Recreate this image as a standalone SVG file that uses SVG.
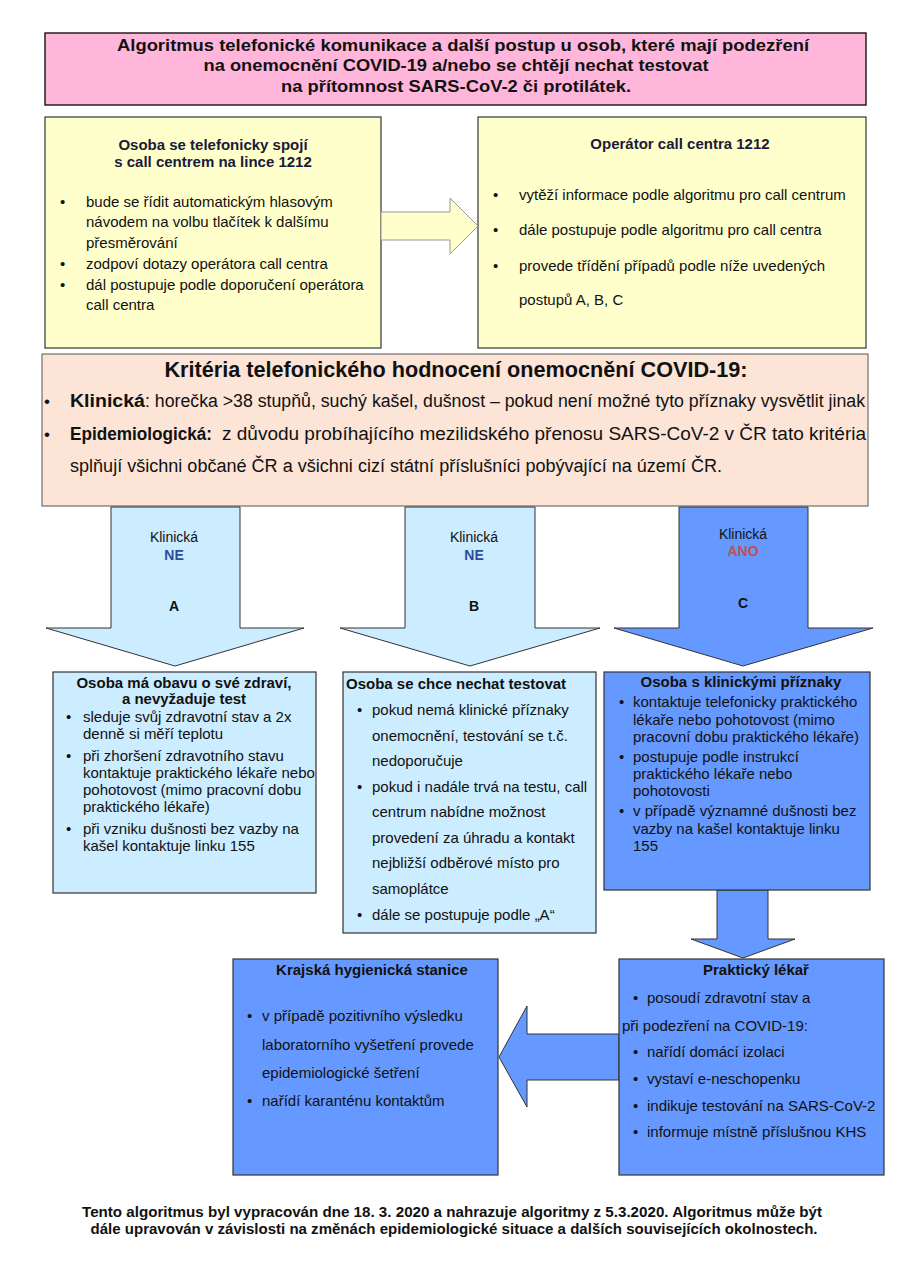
<svg xmlns="http://www.w3.org/2000/svg" width="900" height="1274" viewBox="0 0 900 1274">
<style>
text{font-family:"Liberation Sans",Arial,sans-serif;fill:#111;}
.n{font-family:"Liberation Sans Narrow","Liberation Sans",Arial,sans-serif;}
.b{font-weight:bold;}
.t15{font-size:15px;}
.c{text-anchor:middle;}
.nv{fill:#1a1a3a;}
.box{stroke:#333;stroke-width:1.2;}
.arr{stroke:#333;stroke-width:1;}
.lbl{font-size:14px;}
</style>
<rect width="900" height="1274" fill="#fff"/>

<g id="title">
<rect x="45" y="33" width="821" height="72" fill="#ffb6da" stroke="#222" stroke-width="1.5"/>
<text class="n b c" font-size="17" x="463" y="51" textLength="692" lengthAdjust="spacingAndGlyphs">Algoritmus telefonické komunikace a další postup u osob, které mají podezření</text>
<text class="n b c" font-size="17" x="456" y="71" textLength="505" lengthAdjust="spacingAndGlyphs">na onemocnění COVID-19 a/nebo se chtějí nechat testovat</text>
<text class="n b c" font-size="17" x="456" y="92" textLength="350" lengthAdjust="spacingAndGlyphs">na přítomnost SARS-CoV-2 či protilátek.</text>
</g>

<g id="osoba-1212">
<rect x="45" y="117" width="336" height="231" fill="#ffffcc" class="box"/>
<text class="b t15 c nv" x="213" y="150">Osoba se telefonicky spojí</text>
<text class="b t15 c nv" x="213" y="167">s call centrem na lince 1212</text>
<g class="t15">
<text x="60" y="207">•</text><text x="86" y="207">bude se řídit automatickým hlasovým</text>
<text x="86" y="227">návodem na volbu tlačítek k dalšímu</text>
<text x="86" y="248">přesměrování</text>
<text x="60" y="269">•</text><text x="86" y="269">zodpoví dotazy operátora call centra</text>
<text x="60" y="290">•</text><text x="86" y="290">dál postupuje podle doporučení operátora</text>
<text x="86" y="310">call centra</text>
</g>
</g>

<g id="operator">
<rect x="478" y="117" width="388" height="231" fill="#ffffcc" class="box"/>
<text class="b t15 c nv" x="680" y="149">Operátor call centra 1212</text>
<g class="t15">
<text x="493" y="200">•</text><text x="519" y="200">vytěží informace podle algoritmu pro call centrum</text>
<text x="493" y="235">•</text><text x="519" y="235">dále postupuje podle algoritmu pro call centra</text>
<text x="493" y="271">•</text><text x="519" y="271">provede třídění případů podle níže uvedených</text>
<text x="519" y="305">postupů A, B, C</text>
</g>
</g>

<g id="kriteria">
<rect x="42" y="354" width="826" height="152" fill="#fce4d6" stroke="#555" stroke-width="1"/>
<text class="n b c" font-size="22" x="456" y="377" textLength="583" lengthAdjust="spacingAndGlyphs">Kritéria telefonického hodnocení onemocnění COVID-19:</text>
<text x="44" y="407" font-size="17">•</text>
<text class="n b" font-size="18" x="70" y="407" textLength="75" lengthAdjust="spacingAndGlyphs">Klinická</text>
<text class="n" font-size="18" x="145" y="407" textLength="720" lengthAdjust="spacingAndGlyphs">: horečka &gt;38 stupňů, suchý kašel, dušnost – pokud není možné tyto příznaky vysvětlit jinak</text>
<text x="44" y="440" font-size="17">•</text>
<text class="n b" font-size="18" x="70" y="440" textLength="142" lengthAdjust="spacingAndGlyphs">Epidemiologická:</text>
<text class="n" font-size="18" x="222" y="440" textLength="644" lengthAdjust="spacingAndGlyphs">z důvodu probíhajícího mezilidského přenosu SARS-CoV-2 v ČR tato kritéria</text>
<text class="n" font-size="18" x="70" y="472" textLength="652" lengthAdjust="spacingAndGlyphs">splňují všichni občané ČR a všichni cizí státní příslušníci pobývající na území ČR.</text>
</g>

<g id="connectors">
<polygon points="381,212 450,212 450,198 478,226 450,254 450,240 381,240" fill="#ffffcc" stroke="#999" stroke-width="1"/>
<g id="arrow-a">
<polygon points="111,507 240,507 240,628 304,628 175,666 46,628 111,628" fill="#ccecff" class="arr"/>
<text class="c lbl" x="174" y="542">Klinická</text>
<text class="c b lbl" x="174" y="560" style="fill:#2a4d9b">NE</text>
<text class="c b lbl" x="174" y="611">A</text>
</g>
<g id="arrow-b">
<polygon points="405,507 535,507 535,628 600,628 470,666 340,628 405,628" fill="#ccecff" class="arr"/>
<text class="c lbl" x="474" y="542">Klinická</text>
<text class="c b lbl" x="474" y="560" style="fill:#2a4d9b">NE</text>
<text class="c b lbl" x="474" y="611">B</text>
</g>
<g id="arrow-c">
<polygon points="679,507 808,507 808,628 873,628 743,666 614,628 679,628" fill="#6699ff" class="arr"/>
<text class="c lbl" x="743" y="539">Klinická</text>
<text class="c b lbl" x="743" y="556" style="fill:#c0504d">ANO</text>
<text class="c b lbl" x="743" y="608">C</text>
</g>
<polygon points="717,890 768,890 768,939 795,939 743,958 691,939 717,939" fill="#6699ff" class="arr"/>
<polygon points="619,1034 527,1034 527,1006 499,1057 527,1107 527,1080 619,1080" fill="#6699ff" class="arr"/>
</g>

<g id="obava">
<rect x="53" y="672" width="263" height="221" fill="#ccecff" class="box"/>
<text class="b t15 c" x="184" y="688">Osoba má obavu o své zdraví,</text>
<text class="b t15 c" x="184" y="704">a nevyžaduje test</text>
<g class="t15">
<text x="66" y="722">•</text><text x="83" y="722">sleduje svůj zdravotní stav a 2x</text>
<text x="83" y="739">denně si měří teplotu</text>
<text x="66" y="761">•</text><text x="83" y="761">při zhoršení zdravotního stavu</text>
<text x="83" y="778">kontaktuje praktického lékaře nebo</text>
<text x="83" y="795">pohotovost (mimo pracovní dobu</text>
<text x="83" y="812">praktického lékaře)</text>
<text x="66" y="834">•</text><text x="83" y="834">při vzniku dušnosti bez vazby na</text>
<text x="83" y="851">kašel kontaktuje linku 155</text>
</g>
</g>

<g id="testovat">
<rect x="343" y="672" width="253" height="261" fill="#ccecff" class="box"/>
<text class="b t15" x="346" y="689">Osoba se chce nechat testovat</text>
<g class="t15">
<text x="357" y="715">•</text><text x="372" y="715">pokud nemá klinické příznaky</text>
<text x="372" y="741">onemocnění, testování se t.č.</text>
<text x="372" y="766">nedoporučuje</text>
<text x="357" y="792">•</text><text x="372" y="792">pokud i nadále trvá na testu, call</text>
<text x="372" y="817">centrum nabídne možnost</text>
<text x="372" y="843">provedení za úhradu a kontakt</text>
<text x="372" y="868">nejbližší odběrové místo pro</text>
<text x="372" y="894">samoplátce</text>
<text x="357" y="920">•</text><text x="372" y="920">dále se postupuje podle „A“</text>
</g>
</g>

<g id="priznaky">
<rect x="604" y="672" width="266" height="218" fill="#6699ff" class="box"/>
<text class="b t15 c" x="741" y="687">Osoba s klinickými příznaky</text>
<g class="t15">
<text x="619" y="707">•</text><text x="633" y="707">kontaktuje telefonicky praktického</text>
<text x="633" y="725">lékaře nebo pohotovost (mimo</text>
<text x="633" y="742">pracovní dobu praktického lékaře)</text>
<text x="619" y="762">•</text><text x="633" y="762">postupuje podle instrukcí</text>
<text x="633" y="779">praktického lékaře nebo</text>
<text x="633" y="796">pohotovosti</text>
<text x="619" y="816">•</text><text x="633" y="816">v případě významné dušnosti bez</text>
<text x="633" y="834">vazby na kašel kontaktuje linku</text>
<text x="633" y="851">155</text>
</g>
</g>

<g id="khs">
<rect x="233" y="959" width="265" height="216" fill="#6699ff" class="box"/>
<text class="b t15 c" x="372" y="975">Krajská hygienická stanice</text>
<g class="t15">
<text x="247" y="1021">•</text><text x="262" y="1021">v případě pozitivního výsledku</text>
<text x="262" y="1050">laboratorního vyšetření provede</text>
<text x="262" y="1078">epidemiologické šetření</text>
<text x="247" y="1106">•</text><text x="262" y="1106">nařídí karanténu kontaktům</text>
</g>
</g>

<g id="prakticky-lekar">
<rect x="619" y="959" width="265" height="216" fill="#6699ff" class="box"/>
<text class="b t15 c" x="756" y="975">Praktický lékař</text>
<g class="t15">
<text x="633" y="1003">•</text><text x="647" y="1003">posoudí zdravotní stav a</text>
<text x="622" y="1031">při podezření na COVID-19:</text>
<text x="633" y="1057">•</text><text x="647" y="1057">nařídí domácí izolaci</text>
<text x="633" y="1084">•</text><text x="647" y="1084">vystaví e-neschopenku</text>
<text x="633" y="1111">•</text><text x="647" y="1111">indikuje testování na SARS-CoV-2</text>
<text x="633" y="1137">•</text><text x="647" y="1137">informuje místně příslušnou KHS</text>
</g>
</g>

<g id="footer">
<text class="n b c" font-size="15" x="452" y="1217" textLength="740" lengthAdjust="spacingAndGlyphs">Tento algoritmus byl vypracován dne 18. 3. 2020 a nahrazuje algoritmy z 5.3.2020. Algoritmus může být</text>
<text class="n b c" font-size="15" x="454" y="1234" textLength="727" lengthAdjust="spacingAndGlyphs">dále upravován v závislosti na změnách epidemiologické situace a dalších souvisejících okolnostech.</text>
</g>
</svg>
